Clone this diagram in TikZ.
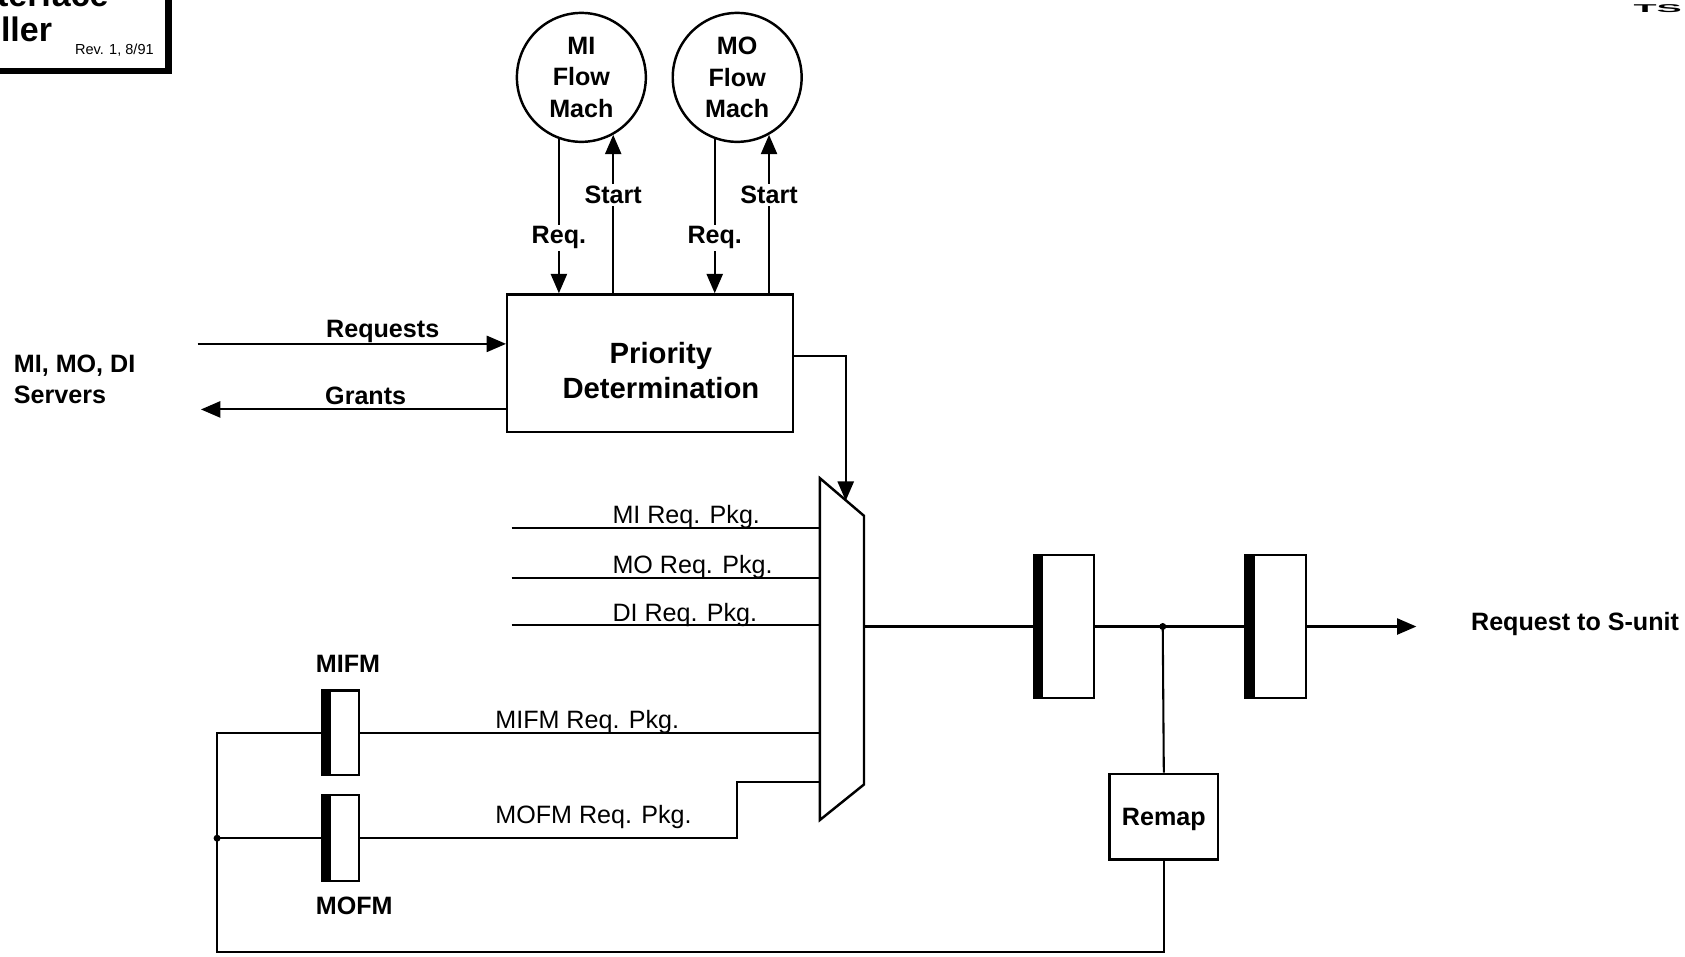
\documentclass[tikz,border=0pt]{standalone}
\usepackage{fontspec}
\setmainfont{Liberation Sans}
\usetikzlibrary{arrows.meta,positioning}
\newcommand{\pxsize}{0.02cm}
\newcommand{\lblsize}{\fontsize{13.3}{16.5}\selectfont}
\newcommand{\makelatch}[5]{
	\node[draw, line width=1.2pt, minimum width=#3, minimum height=#4, inner sep=0pt] (#1) at (#2) {};
	\fill (#1.north west) rectangle ([xshift=#5]#1.south west);
}

\begin{document}
\begin{tikzpicture}[x=\pxsize, y=-\pxsize, line width=1.1pt, font=\bfseries\lblsize,
	arr/.style={-{Triangle[length=0.36cm,width=0.3cm]}},
	pkg/.style={anchor=base west, font=\mdseries\lblsize, inner sep=0pt},
	flowmach/.style={circle, draw, line width=1.3pt, minimum size=2.4cm, inner sep=0pt, align=center}]
	\useasboundingbox (0,0) rectangle (1568,890);
	\clip (0,0) rectangle (1568,890);

	\draw[line width=3.5pt] (-50,-50) rectangle (157,66);
	\node[anchor=base east, inner sep=0pt, font=\bfseries\fontsize{18}{18}\selectfont] (ttl1) at (102,6) {terface};
	\node[anchor=base west, inner sep=0pt, font=\bfseries\fontsize{18}{18}\selectfont] (ttl2) at (0,39) {ller};
	\node[anchor=base east, inner sep=0pt, font=\mdseries\fontsize{7.7}{8}\selectfont] (rev) at (144,51) {Rev. 1, 8/91};
	\node[anchor=base east, inner sep=0pt, font=\bfseries\fontsize{20}{20}\selectfont] (ts) at (1566,12) {\scalebox{1}[0.3]{TS}};

	\node[flowmach] (mi) at (541,72) {MI\\Flow\\Mach};
	\node[flowmach] (mo) at (686,72) {MO\\Flow\\Mach};
	\node[draw, line width=1.3pt, minimum width=5.32cm, minimum height=2.56cm] (pri) at (605,338) {};
	\node[align=center, inner sep=0pt, font=\bfseries\fontsize{15.5}{18.7}\selectfont] (pritxt) at (615,345) {Priority\\Determination};

	\draw[arr] (mi.-110) -- node[fill=white, inner sep=1pt, pos=0.64] {Req.} (mi.-110 |- pri.north);
	\draw[arr] (mi.-61 |- pri.north) -- node[fill=white, inner sep=1pt, pos=0.62] {Start} (mi.-61);
	\draw[arr] (mo.-110) -- node[fill=white, inner sep=1pt, pos=0.64] {Req.} (mo.-110 |- pri.north);
	\draw[arr] (mo.-61 |- pri.north) -- node[fill=white, inner sep=1pt, pos=0.62] {Start} (mo.-61);

	\node[anchor=west, align=left, inner sep=0pt] (srv) at (12,353) {MI, MO, DI\\Servers};
	\coordinate (reqin) at (184,320);
	\coordinate (grout) at (187,381);
	\draw[arr] (reqin) -- node[above, inner sep=0pt, pos=0.6] {Requests} (reqin -| pri.west);
	\draw[arr] (grout -| pri.west) -- node[above, inner sep=2pt, pos=0.46] {Grants} (grout);

	\coordinate (muxtl) at (763,445);
	\coordinate (muxtr) at (804,480);
	\coordinate (muxbr) at (804,730);
	\coordinate (muxbl) at (763,763);
	\draw[line width=1.3pt] (muxtl) -- (muxtr) -- (muxbr) -- (muxbl) -- cycle;
	\coordinate (muxsel) at (787,466);
	\draw[arr] ([yshift=0.14cm]pri.east) -| (muxsel);

	\foreach \y/\src in {491/MI, 538/MO, 582/DI} {
		\coordinate (in\src) at (476,\y);
		\draw (in\src) -- (in\src -| muxtl);
		\node[pkg] (lbl\src) at (569,\y-4) {\src\ Req. Pkg.};
	}

	\makelatch{mifm}{317,682}{0.68cm}{1.58cm}{0.18cm}
	\makelatch{mofm}{317,780}{0.68cm}{1.6cm}{0.18cm}
	\node[anchor=west, inner sep=0pt] (mifmlbl) at (293,618) {MIFM};
	\node[anchor=west, inner sep=0pt] (mofmlbl) at (293,843) {MOFM};
	\draw (mifm.east) -- (mifm.east -| muxtl);
	\node[pkg] (mifmpkg) at (460,678) {MIFM Req. Pkg.};
	\coordinate (mofmstep) at (686,728);
	\draw (mofm.east) -| (mofmstep) -- (mofmstep -| muxtl);
	\node[pkg] (mofmpkg) at (460,766) {MOFM Req. Pkg.};

	\coordinate (muxout) at (804,583);
	\makelatch{stg1}{990,583}{1.12cm}{2.66cm}{0.2cm}
	\makelatch{stg2}{1187,583}{1.12cm}{2.66cm}{0.2cm}
	\draw (muxout) -- (stg1.west);
	\draw (stg1.east) -- (stg2.west);
	\coordinate (tap) at (1082,583);
	\fill (tap) circle (0.065cm);
	\coordinate (sunit) at (1318,583);
	\draw[arr] (stg2.east) -- (sunit);
	\node[anchor=west, inner sep=0pt] (sunitlbl) at (1368,581) {Request to S-unit};

	\node[draw, line width=1.3pt, minimum width=2.02cm, minimum height=1.6cm, text depth=-0.1cm] (remap) at (1083,760) {Remap};
	\draw (tap) -- (remap.north);
	\coordinate (fbk) at (202,886);
	\coordinate (fbkdot) at (202,780);
	\draw (remap.south) |- (fbk) -- (fbk |- mifm.west) -- (mifm.west);
	\draw (fbkdot) -- (mofm.west);
	\fill (fbkdot) circle (0.065cm);
\end{tikzpicture}
\end{document}
